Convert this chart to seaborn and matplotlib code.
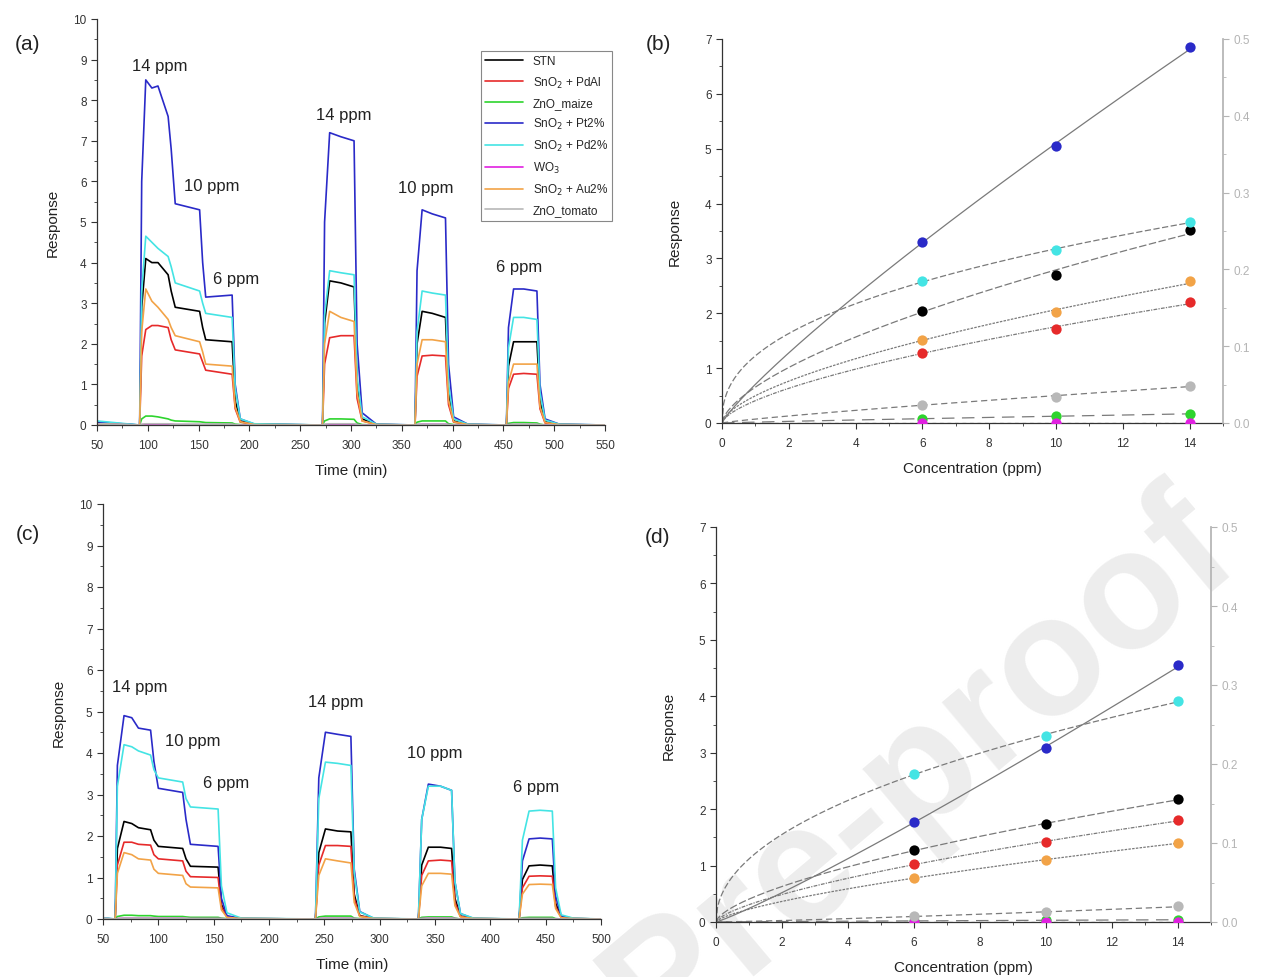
import numpy as np
import pandas as pd
import matplotlib
matplotlib.use("Agg")
import matplotlib.pyplot as plt
import seaborn as sns
from matplotlib.ticker import MultipleLocator

# Sensors, in legend order
SENSORS = [
    "STN",
    "SnO$_2$ + PdAl",
    "ZnO_maize",
    "SnO$_2$ + Pt2%",
    "SnO$_2$ + Pd2%",
    "WO$_3$",
    "SnO$_2$ + Au2%",
    "ZnO_tomato",
]
COLORS = ["#000000", "#e62a2a", "#2ed42e", "#2a2ac8", "#44e4e4", "#e020e0", "#f2a347", "#b8b8b8"]

# ---- panel (a): transient response, first condition ----
time_a = [50, 75, 92, 94, 98, 104, 110, 120, 123, 127, 151, 154, 157, 183, 186, 191, 205,
          272, 274, 279, 290, 303, 306, 311, 325,
          363, 365, 370, 380, 393, 396, 401, 415,
          453, 455, 460, 470, 483, 486, 491, 505, 550]
a_stn = [0.05, 0.02, 0, 2.9, 4.1, 4.0, 4.0, 3.7, 3.3, 2.9, 2.8, 2.4, 2.1, 2.05, 0.6, 0.1, 0.02,
         0, 2.5, 3.55, 3.5, 3.4, 1.0, 0.15, 0.01,
         0, 2.0, 2.8, 2.75, 2.65, 0.8, 0.1, 0.01,
         0, 1.45, 2.05, 2.05, 2.05, 0.6, 0.08, 0.01, 0]
a_pdal = [0.03, 0.01, 0, 1.7, 2.35, 2.45, 2.45, 2.4, 2.1, 1.85, 1.75, 1.55, 1.35, 1.25, 0.4, 0.07, 0.01,
          0, 1.5, 2.15, 2.2, 2.2, 0.65, 0.1, 0.01,
          0, 1.2, 1.7, 1.72, 1.7, 0.5, 0.07, 0.01,
          0, 0.9, 1.25, 1.27, 1.25, 0.4, 0.05, 0.01, 0]
a_maize = [0.02, 0.01, 0, 0.15, 0.22, 0.22, 0.2, 0.15, 0.12, 0.1, 0.08, 0.07, 0.06, 0.05, 0.02, 0.01, 0,
           0, 0.1, 0.15, 0.15, 0.14, 0.05, 0.01, 0,
           0, 0.07, 0.1, 0.1, 0.1, 0.03, 0.01, 0,
           0, 0.04, 0.06, 0.06, 0.05, 0.02, 0, 0, 0]
a_pt = [0.08, 0.03, 0, 6.0, 8.5, 8.3, 8.35, 7.6, 6.8, 5.45, 5.3, 4.0, 3.15, 3.2, 1.0, 0.15, 0.02,
        0, 5.0, 7.2, 7.1, 7.0, 2.0, 0.3, 0.02,
        0, 3.8, 5.3, 5.2, 5.1, 1.5, 0.2, 0.02,
        0, 2.4, 3.35, 3.35, 3.3, 1.0, 0.15, 0.02, 0]
a_pd = [0.1, 0.04, 0, 3.3, 4.65, 4.5, 4.35, 4.15, 3.9, 3.5, 3.3, 3.0, 2.75, 2.65, 0.9, 0.15, 0.03,
        0, 2.7, 3.8, 3.75, 3.7, 1.2, 0.2, 0.02,
        0, 2.3, 3.3, 3.25, 3.2, 1.0, 0.15, 0.02,
        0, 1.9, 2.65, 2.65, 2.6, 0.8, 0.12, 0.02, 0]
a_wo3 = [0.02, 0.01, 0, 0.01, 0.02, 0.02, 0.02, 0.02, 0.02, 0.01, 0.01, 0.01, 0.01, 0.01, 0, 0, 0,
         0, 0.01, 0.02, 0.02, 0.02, 0.01, 0, 0,
         0, 0.01, 0.02, 0.02, 0.02, 0.01, 0, 0,
         0, 0.01, 0.01, 0.01, 0.01, 0, 0, 0, 0]
a_au = [0.03, 0.01, 0, 2.3, 3.35, 3.05, 2.9, 2.6, 2.4, 2.2, 2.05, 1.8, 1.5, 1.45, 0.45, 0.08, 0.01,
        0, 2.0, 2.8, 2.65, 2.55, 0.8, 0.1, 0.01,
        0, 1.5, 2.1, 2.1, 2.05, 0.6, 0.08, 0.01,
        0, 1.05, 1.5, 1.5, 1.5, 0.45, 0.06, 0.01, 0]
a_tomato = [0.03, 0.01, 0, 0.02, 0.03, 0.03, 0.03, 0.03, 0.02, 0.02, 0.02, 0.02, 0.02, 0.02, 0.01, 0, 0,
            0, 0.02, 0.03, 0.03, 0.03, 0.01, 0, 0,
            0, 0.02, 0.02, 0.02, 0.02, 0.01, 0, 0,
            0, 0.01, 0.02, 0.02, 0.02, 0.01, 0, 0, 0]

# ---- panel (c): transient response, second condition ----
time_c = [50, 61, 63, 69, 76, 82, 93, 96, 100, 122, 125, 129, 154, 157, 162, 175,
          242, 245, 251, 262, 274, 277, 282, 295,
          335, 338, 344, 355, 365, 368, 373, 385,
          426, 429, 435, 445, 456, 459, 464, 475, 500]
c_stn = [0.01, 0, 1.7, 2.35, 2.3, 2.2, 2.15, 1.9, 1.75, 1.7, 1.45, 1.27, 1.25, 0.35, 0.06, 0.01,
         0, 1.6, 2.17, 2.12, 2.1, 0.6, 0.08, 0.01,
         0, 1.3, 1.73, 1.73, 1.7, 0.5, 0.07, 0.01,
         0, 0.95, 1.28, 1.3, 1.28, 0.38, 0.05, 0.01, 0]
c_pdal = [0.01, 0, 1.3, 1.85, 1.85, 1.8, 1.78, 1.55, 1.45, 1.4, 1.15, 1.02, 1.0, 0.3, 0.05, 0.01,
          0, 1.3, 1.77, 1.77, 1.75, 0.5, 0.07, 0.01,
          0, 1.05, 1.4, 1.42, 1.4, 0.4, 0.06, 0.01,
          0, 0.75, 1.03, 1.04, 1.03, 0.3, 0.04, 0.01, 0]
c_maize = [0.01, 0, 0.06, 0.09, 0.09, 0.08, 0.08, 0.07, 0.06, 0.06, 0.05, 0.04, 0.04, 0.02, 0.01, 0,
           0, 0.05, 0.07, 0.07, 0.07, 0.02, 0.01, 0,
           0, 0.04, 0.05, 0.05, 0.05, 0.02, 0, 0,
           0, 0.03, 0.04, 0.04, 0.04, 0.01, 0, 0, 0]
c_pt = [0.02, 0, 3.7, 4.9, 4.85, 4.6, 4.55, 3.8, 3.15, 3.05, 2.4, 1.8, 1.75, 0.5, 0.08, 0.01,
        0, 3.4, 4.5, 4.45, 4.4, 1.2, 0.18, 0.01,
        0, 2.4, 3.25, 3.2, 3.1, 0.9, 0.13, 0.01,
        0, 1.4, 1.93, 1.95, 1.93, 0.55, 0.08, 0.01, 0]
c_pd = [0.03, 0, 3.2, 4.2, 4.15, 4.05, 3.95, 3.6, 3.4, 3.3, 2.9, 2.7, 2.65, 0.8, 0.15, 0.02,
        0, 2.9, 3.78, 3.75, 3.7, 1.1, 0.17, 0.02,
        0, 2.4, 3.2, 3.2, 3.1, 0.9, 0.13, 0.02,
        0, 1.9, 2.6, 2.62, 2.6, 0.75, 0.1, 0.02, 0]
c_wo3 = [0.01, 0, 0.01, 0.02, 0.02, 0.02, 0.02, 0.02, 0.02, 0.02, 0.01, 0.01, 0.01, 0.01, 0, 0,
         0, 0.01, 0.02, 0.02, 0.02, 0.01, 0, 0,
         0, 0.01, 0.02, 0.02, 0.02, 0.01, 0, 0,
         0, 0.01, 0.01, 0.01, 0.01, 0, 0, 0, 0]
c_au = [0.01, 0, 1.1, 1.6, 1.55, 1.45, 1.42, 1.2, 1.1, 1.05, 0.85, 0.77, 0.75, 0.22, 0.04, 0.01,
        0, 1.05, 1.45, 1.4, 1.35, 0.4, 0.06, 0.01,
        0, 0.8, 1.1, 1.1, 1.08, 0.32, 0.05, 0.01,
        0, 0.6, 0.83, 0.84, 0.83, 0.25, 0.03, 0.01, 0]
c_tomato = [0.01, 0, 0.01, 0.02, 0.02, 0.02, 0.02, 0.02, 0.02, 0.02, 0.02, 0.01, 0.01, 0.01, 0, 0,
            0, 0.01, 0.02, 0.02, 0.02, 0.01, 0, 0,
            0, 0.01, 0.02, 0.02, 0.02, 0.01, 0, 0,
            0, 0.01, 0.01, 0.01, 0.01, 0, 0, 0, 0]

# ppm annotations: (time, response, text)
labels_a = [(112, 8.85, "14 ppm"), (163, 5.9, "10 ppm"), (187, 3.6, "6 ppm"),
            (293, 7.65, "14 ppm"), (374, 5.85, "10 ppm"), (465, 3.9, "6 ppm")]
labels_c = [(83, 5.6, "14 ppm"), (131, 4.3, "10 ppm"), (161, 3.3, "6 ppm"),
            (260, 5.25, "14 ppm"), (350, 4.0, "10 ppm"), (441, 3.2, "6 ppm")]

# ---- panels (b) and (d): response vs concentration ----
conc = [6, 10, 14]
b_stn = [2.05, 2.7, 3.52]
b_pdal = [1.28, 1.72, 2.2]
b_maize = [0.08, 0.12, 0.17]
b_pt = [3.3, 5.05, 6.85]
b_pd = [2.58, 3.15, 3.67]
b_wo3 = [0.0, 0.0, 0.0]
b_au = [1.52, 2.02, 2.58]
b_tomato = [0.33, 0.48, 0.68]

d_stn = [1.27, 1.73, 2.18]
d_pdal = [1.02, 1.42, 1.8]
d_maize = [0.02, 0.03, 0.04]
d_pt = [1.77, 3.08, 4.55]
d_pd = [2.62, 3.3, 3.92]
d_wo3 = [0.0, 0.0, 0.0]
d_au = [0.78, 1.1, 1.4]
d_tomato = [0.1, 0.17, 0.28]

FIT_STYLES = [(0, (6, 2)), (0, (3, 1, 1, 1)), (0, (10, 6)), "-", (0, (5, 2)),
              (0, (3, 3)), (0, (2, 1)), (0, (5, 3))]

sns.set_theme(style="ticks")
plt.rcParams["font.family"] = ["Liberation Sans", "DejaVu Sans"]
plt.rcParams["axes.edgecolor"] = "#333333"
plt.rcParams["xtick.color"] = "#333333"
plt.rcParams["ytick.color"] = "#333333"

fig = plt.figure(figsize=(12.61, 9.78), dpi=100)
W, H = 1261, 978


def box(x0, y0, x1, y1):
    # pixel box -> figure fraction rect
    return [x0 / W, 1 - y1 / H, (x1 - x0) / W, (y1 - y0) / H]


ax_a = fig.add_axes(box(97, 20, 605, 426))
ax_b = fig.add_axes(box(722, 40, 1223, 424))
ax_c = fig.add_axes(box(103, 505, 601, 920))
ax_d = fig.add_axes(box(716, 528, 1211, 923))

TICK_FS = 8.5
LABEL_FS = 11


def style_axes(axe, xmajor, xminor, ymajor, yminor):
    axe.patch.set_alpha(0)
    sns.despine(ax=axe)
    axe.xaxis.set_major_locator(MultipleLocator(xmajor))
    axe.xaxis.set_minor_locator(MultipleLocator(xminor))
    axe.yaxis.set_major_locator(MultipleLocator(ymajor))
    axe.yaxis.set_minor_locator(MultipleLocator(yminor))
    axe.tick_params(which="major", direction="out", length=4, width=0.8, labelsize=TICK_FS)
    axe.tick_params(axis="x", which="major", pad=6)
    axe.tick_params(which="minor", direction="out", length=2, width=0.6)
    for s in ["left", "bottom"]:
        axe.spines[s].set_linewidth(0.9)


def draw_transient(axe, times, series, labels, xmax):
    for name, vals, col in zip(SENSORS, series, COLORS):
        sns.lineplot(x=times, y=vals, ax=axe, color=col, linewidth=1.2,
                     label=name, estimator=None, sort=False)
    for t, r, txt in labels:
        axe.text(t, r, txt, ha="center", va="center", fontsize=12, color="#222222")
    axe.set_xlim(50, xmax)
    axe.set_ylim(0, 10)
    axe.set_xlabel("Time (min)", fontsize=LABEL_FS, color="#222222", labelpad=9)
    axe.set_ylabel("Response", fontsize=LABEL_FS, color="#222222", labelpad=10)
    style_axes(axe, 50, 25, 1, 0.5)


def draw_calibration(axe, series):
    xs = np.array(conc, dtype=float)
    for vals, col, ls in zip(series, COLORS, FIT_STYLES):
        ys = np.array(vals, dtype=float)
        if ys.min() > 0:
            # power-law fit through the measured points
            b, loga = np.polyfit(np.log(xs), np.log(ys), 1)
            xf = np.linspace(0.0, 14.1, 300)
            yf = np.exp(loga) * xf ** b
        else:
            xf = np.array([0.0, 14.1])
            yf = np.array([0.0, 0.0])
        sns.lineplot(x=xf, y=yf, ax=axe, color="#7a7a7a", linewidth=0.9,
                     linestyle=ls, estimator=None, sort=False)
    for vals, col in zip(series, COLORS):
        sns.scatterplot(x=conc, y=vals, ax=axe, color=col, s=55, linewidth=0, zorder=5)
    axe.set_xlim(0, 15)
    axe.set_ylim(0, 7)
    axe.set_xlabel("Concentration (ppm)", fontsize=LABEL_FS, color="#222222", labelpad=9)
    axe.set_ylabel("Response", fontsize=LABEL_FS, color="#222222", labelpad=17)
    style_axes(axe, 2, 1, 1, 0.5)

    # secondary (grey) axis on the right
    ax2 = axe.twinx()
    ax2.set_ylim(0, 0.5)
    for s in ["top", "left", "bottom"]:
        ax2.spines[s].set_visible(False)
    ax2.spines["right"].set_color("#b4b4b4")
    ax2.yaxis.set_major_locator(MultipleLocator(0.1))
    ax2.yaxis.set_minor_locator(MultipleLocator(0.05))
    ax2.tick_params(which="major", direction="out", length=4, width=0.8,
                    colors="#b4b4b4", labelsize=TICK_FS)
    ax2.tick_params(which="minor", direction="out", length=2, width=0.6, colors="#b4b4b4")
    ax2.yaxis.set_major_formatter(matplotlib.ticker.FormatStrFormatter("%.1f"))


draw_transient(ax_a, time_a, [a_stn, a_pdal, a_maize, a_pt, a_pd, a_wo3, a_au, a_tomato],
               labels_a, 550)
draw_transient(ax_c, time_c, [c_stn, c_pdal, c_maize, c_pt, c_pd, c_wo3, c_au, c_tomato],
               labels_c, 500)
ax_c.get_legend().remove()

leg = ax_a.legend(loc="upper left", bbox_to_anchor=(0.745, 0.935), fontsize=8.5,
                  handlelength=3.2, labelspacing=0.6, borderpad=0.35, fancybox=False,
                  framealpha=1, edgecolor="#888888")
leg.get_frame().set_linewidth(0.8)

draw_calibration(ax_b, [b_stn, b_pdal, b_maize, b_pt, b_pd, b_wo3, b_au, b_tomato])
draw_calibration(ax_d, [d_stn, d_pdal, d_maize, d_pt, d_pd, d_wo3, d_au, d_tomato])

for txt, (px, py) in zip(["(a)", "(b)", "(c)", "(d)"],
                         [(28, 44), (658, 44), (28, 535), (658, 538)]):
    fig.text(px / W, 1 - py / H, txt, ha="center", va="center", fontsize=15, color="#222222")

# light watermark behind everything
fig.text(1215 / W, 1 - 532 / H, "Journal Pre-proof", ha="right", va="center",
         rotation=40, rotation_mode="anchor", fontsize=122, fontweight="bold",
         color="#ededed", zorder=-1)

fig.savefig("out.png", dpi=100)
